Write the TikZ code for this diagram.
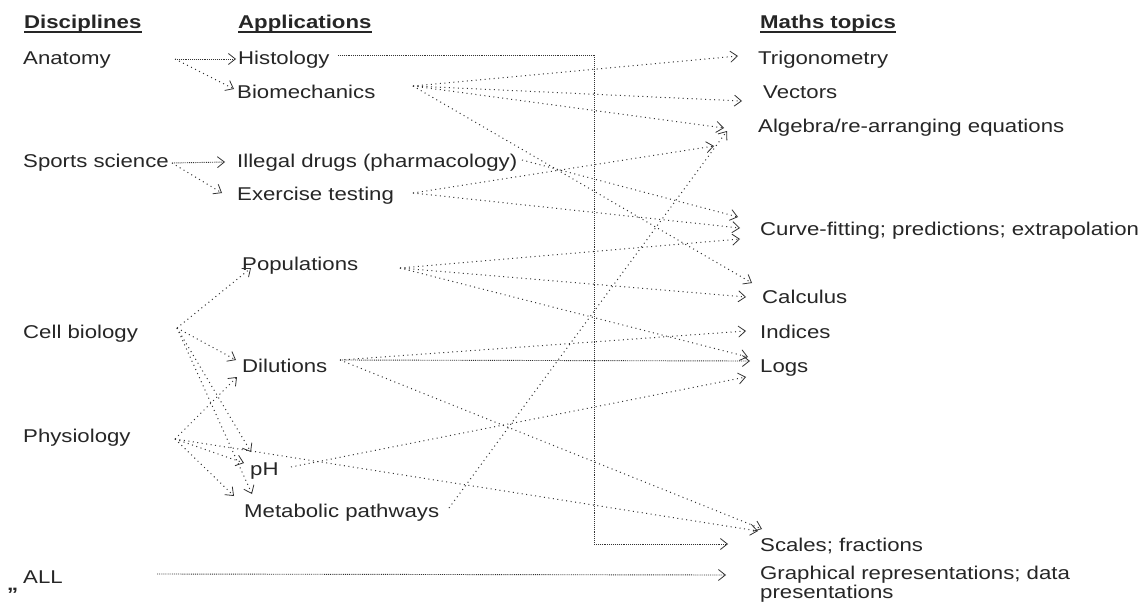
\documentclass[tikz,border=0pt]{standalone}
\usepackage{fontspec}
\setmainfont{Liberation Sans}[FakeStretch=1.2]
\usetikzlibrary{arrows.meta}
\newcommand\lblfont{\fontsize{18.5}{22}\selectfont}
\tikzset{
  lbl/.style={anchor=base west, inner sep=0pt, text=black!85, font=\lblfont},
  hd/.style={lbl, font=\lblfont\bfseries},
  ul/.style={draw=black!85, line width=1.3pt},
  tipbarb/.tip={Straight Barb[length=7pt,width=11pt,line width=0.8pt]},
  link/.style={draw=black!80, line width=1pt, dash pattern=on 1pt off 3.5pt, -tipbarb},
  denselink/.style={draw=black!80, line width=0.9pt, dash pattern=on 0.9pt off 1pt, -tipbarb},
  trunk/.style={draw=black!80, line width=0.9pt, dash pattern=on 0.9pt off 1pt},
}
\begin{document}
\begin{tikzpicture}[x=1pt,y=-1pt]
\fill[white] (0,0) rectangle (1145,602);
\useasboundingbox (0,0) rectangle (1145,602);

% column headings
\node[hd] (hdA) at (24,29) {Disciplines};
\node[hd] (hdB) at (238,29) {Applications};
\node[hd] (hdC) at (760,29) {Maths topics};
\foreach \h in {hdA,hdB,hdC}
  \draw[ul] ([yshift=-3pt]\h.base west) -- ([yshift=-3pt]\h.base east);

% disciplines
\node[lbl] (ana) at (23,64) {Anatomy};
\node[lbl] (spo) at (23,167) {Sports science};
\node[lbl] (cel) at (23,338) {Cell biology};
\node[lbl] (phy) at (23,442) {Physiology};
\node[lbl] (all) at (23,583) {ALL};
\node[lbl] (quo) at (7,590) {\bfseries „};

% applications
\node[lbl] (his) at (238,64) {Histology};
\node[lbl] (bio) at (237,98) {Biomechanics};
\node[lbl] (ill) at (237,167) {Illegal drugs (pharmacology)};
\node[lbl] (exe) at (237,200) {Exercise testing};
\node[lbl] (pop) at (242,270) {Populations};
\node[lbl] (dil) at (242,372) {Dilutions};
\node[lbl] (ph)  at (250,475) {pH};
\node[lbl] (met) at (244,517) {Metabolic pathways};

% maths topics
\node[lbl] (tri) at (758,64) {Trigonometry};
\node[lbl] (vec) at (763,98) {Vectors};
\node[lbl] (alg) at (758,132) {Algebra/re-arranging equations};
\node[lbl] (cur) at (760,235) {Curve-fitting; predictions; extrapolation};
\node[lbl] (cal) at (762,303) {Calculus};
\node[lbl] (ind) at (760,338) {Indices};
\node[lbl] (lgs) at (760,372) {Logs};
\node[lbl] (sca) at (760,551) {Scales; fractions};
\node[lbl] (gra) at (760,579) {Graphical representations; data};
\node[lbl] (grb) at (760,598) {presentations};

% line ends beside the labels
\coordinate (anaO) at (175,59);
\coordinate (spoO) at (172,163);
\coordinate (celO) at (177,328);
\coordinate (phyO) at (175,439);
\coordinate (allO) at (157,574);
\coordinate (hisO) at (338,55);
\coordinate (bioO) at (413,86);
\coordinate (illO) at (522,160);
\coordinate (exeO) at (413,193);
\coordinate (popO) at (400,268);
\coordinate (dilO) at (340,360);
\coordinate (phO)  at (291,467);
\coordinate (metO) at (449,508);
\coordinate (bendA) at (594,55);
\coordinate (bendB) at (594,544);

% arrow points
\coordinate (hisI) at (236,59);
\coordinate (bioI) at (234,89);
\coordinate (illI) at (225,162);
\coordinate (exeI) at (222,193);
\coordinate (popI) at (251,268);
\coordinate (dilIa) at (236,360);
\coordinate (dilIb) at (237,377);
\coordinate (phIa) at (251,452);
\coordinate (phIb) at (244,463);
\coordinate (metIa) at (252,494);
\coordinate (metIb) at (234,496);
\coordinate (triI) at (738,56);
\coordinate (vecI) at (742,101);
\coordinate (algIa) at (724,128);
\coordinate (algIb) at (714,146);
\coordinate (algIc) at (727,131);
\coordinate (curIa) at (738,217);
\coordinate (curIb) at (740,228);
\coordinate (curIc) at (740,239);
\coordinate (calIa) at (752,283);
\coordinate (calIb) at (746,297);
\coordinate (indI) at (746,331);
\coordinate (lgsIa) at (748,357);
\coordinate (lgsIb) at (750,361);
\coordinate (lgsIc) at (746,377);
\coordinate (scaIa) at (762,529);
\coordinate (scaIb) at (758,531);
\coordinate (scaIc) at (728,544);
\coordinate (graI) at (726,575);

% disciplines to applications
\draw[denselink] (anaO) -- (hisI);
\draw[link] (anaO) -- (bioI);
\draw[denselink] (spoO) -- (illI);
\draw[link] (spoO) -- (exeI);
\draw[link] (celO) -- (popI);
\draw[link] (celO) -- (dilIa);
\draw[link] (celO) -- (phIa);
\draw[link] (celO) -- (metIa);
\draw[link] (phyO) -- (dilIb);
\draw[link] (phyO) -- (phIb);
\draw[link] (phyO) -- (metIb);

% applications to maths topics
\draw[trunk] (hisO) -- (bendA) -- (bendB);
\draw[denselink] (bendB) -- (scaIc);
\draw[link] (bioO) -- (triI);
\draw[link] (bioO) -- (vecI);
\draw[link] (bioO) -- (algIa);
\draw[link] (bioO) -- (calIa);
\draw[link] (illO) -- (curIa);
\draw[link] (exeO) -- (algIb);
\draw[link] (exeO) -- (curIb);
\draw[link] (popO) -- (curIc);
\draw[link] (popO) -- (calIb);
\draw[link] (popO) -- (lgsIa);
\draw[link] (dilO) -- (indI);
\draw[denselink] (dilO) -- (lgsIb);
\draw[link] (dilO) -- (scaIa);
\draw[link] (phO) -- (lgsIc);
\draw[link] (phyO) -- (scaIb);
\draw[link] (metO) -- (algIc);
\draw[denselink] (allO) -- (graI);
\end{tikzpicture}
\end{document}
